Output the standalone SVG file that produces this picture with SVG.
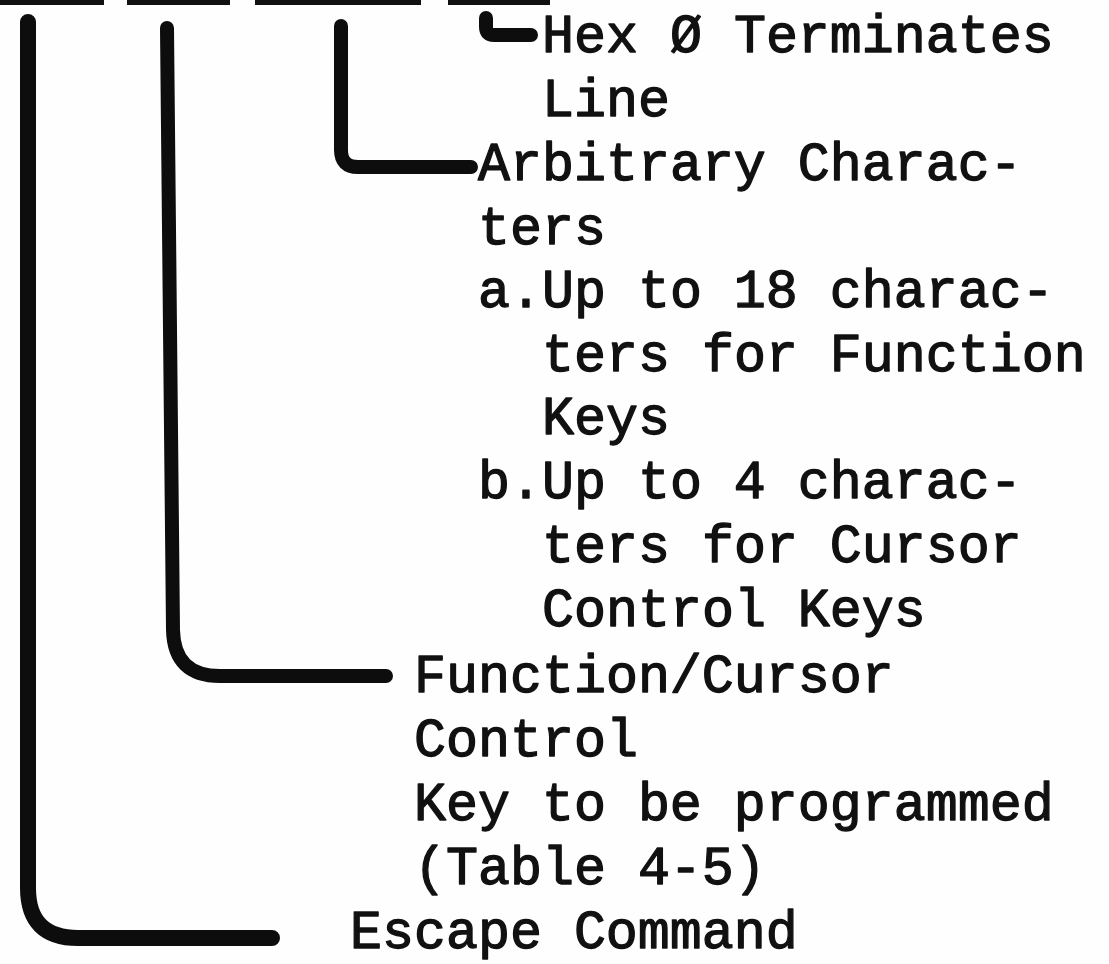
<svg xmlns="http://www.w3.org/2000/svg" width="1109" height="964" viewBox="0 0 1109 964">
  <style>
    .t { font-family: "Liberation Mono", "DejaVu Sans Mono", monospace; font-size: 53.3px; fill: #111; stroke: #111; stroke-width: 1.3px; stroke-linejoin: round; }
    .c { fill: none; stroke: #0d0d0d; stroke-linecap: round; stroke-linejoin: round; }
    .u { fill: #111; }
  </style>
  <rect x="0" y="0" width="1109" height="964" fill="#fefefe"/>

  <g id="underlines">
    <rect class="u" x="0" y="0" width="104" height="5"/>
    <rect class="u" x="127" y="0" width="103" height="5"/>
    <rect class="u" x="255" y="0" width="166" height="5"/>
    <rect class="u" x="448" y="0" width="102" height="5"/>
  </g>

  <g id="connectors">
    <path id="c-escape" class="c" stroke-width="16" d="M28,22 V888 Q28,938 78,938 H272"/>
    <path id="c-key" class="c" stroke-width="14" d="M167,28 L173,630 Q174,676 220,676 H386"/>
    <path id="c-arbitrary" class="c" stroke-width="14" d="M341,26 V150 Q341,167 358,167 H471"/>
    <path id="c-hex" class="c" stroke-width="14" d="M486,18 V27 Q486,35 494,35 H531"/>
  </g>

  <g id="node-hex">
    <text class="t" x="542" y="52">Hex Ø Terminates</text>
    <text class="t" x="542" y="116">Line</text>
  </g>

  <g id="node-arbitrary">
    <text class="t" x="478" y="180">Arbitrary Charac-</text>
    <text class="t" x="478" y="244">ters</text>
    <text class="t" x="478" y="307">a.Up to 18 charac-</text>
    <text class="t" x="542" y="371">ters for Function</text>
    <text class="t" x="542" y="434">Keys</text>
    <text class="t" x="478" y="498">b.Up to 4 charac-</text>
    <text class="t" x="542" y="562">ters for Cursor</text>
    <text class="t" x="542" y="626">Control Keys</text>
  </g>

  <g id="node-key">
    <text class="t" x="414" y="692">Function/Cursor</text>
    <text class="t" x="414" y="756">Control</text>
    <text class="t" x="414" y="820">Key to be programmed</text>
    <text class="t" x="414" y="884">(Table 4-5)</text>
  </g>

  <g id="node-escape">
    <text class="t" x="350" y="948">Escape Command</text>
  </g>
</svg>
